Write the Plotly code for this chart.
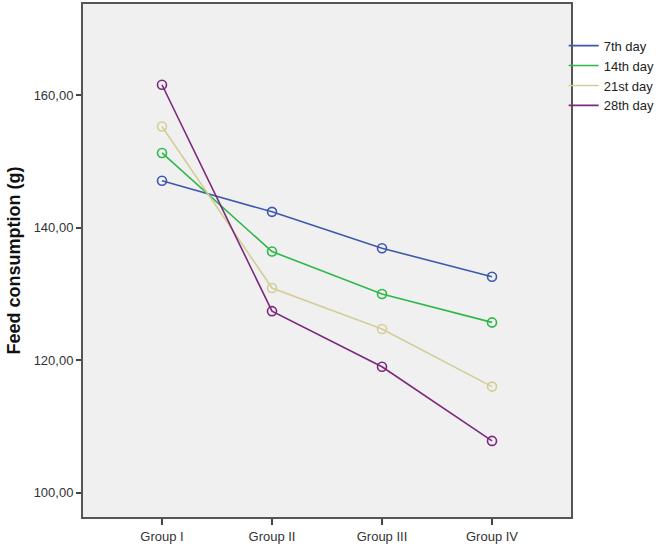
import plotly.graph_objects as go

groups = ["Group I", "Group II", "Group III", "Group IV"]
day7 = [147.1, 142.4, 136.9, 132.6]
day14 = [151.3, 136.4, 130.0, 125.7]
day21 = [155.3, 130.9, 124.7, 116.0]
day28 = [161.6, 127.4, 119.0, 107.8]
series_names = ["7th day", "14th day", "21st day", "28th day"]
colors = ["#3E58AC", "#2EB848", "#D3CE97", "#7C287D"]
y_tickvals = [100, 120, 140, 160]
y_ticktext = ["100,00", "120,00", "140,00", "160,00"]

fig = go.Figure()
for name, vals, c in zip(series_names, [day7, day14, day21, day28], colors):
    fig.add_trace(go.Scatter(
        x=list(range(len(groups))), y=vals, name=name, mode="lines+markers",
        line=dict(color=c, width=1.6), showlegend=False,
        marker=dict(symbol="circle-open", size=9, color=c, line=dict(width=1.6, color=c)),
    ))
# legend entries (line only, as in the reference)
for name, c in zip(series_names, colors):
    fig.add_trace(go.Scatter(x=[None], y=[None], name=name, mode="lines",
                             line=dict(color=c, width=1.6), showlegend=True))

fig.update_layout(
    width=658, height=548,
    margin=dict(l=83, r=87, t=4, b=31, autoexpand=False),
    paper_bgcolor="white", plot_bgcolor="#F0F0F0",
    font=dict(family="Liberation Sans, Arial, sans-serif", size=13, color="#333333"),
    showlegend=True,
    legend=dict(x=0.985, y=0.948, xanchor="left", yanchor="top",
                font=dict(size=13, color="#222222"), bgcolor="rgba(0,0,0,0)",
                itemwidth=30, tracegroupgap=0),
    xaxis=dict(range=[-0.718, 3.718], tickmode="array", tickvals=list(range(len(groups))),
               ticktext=groups, showgrid=False, zeroline=False, ticks="outside", ticklen=6,
               tickcolor="#444444", tickwidth=1.5, showline=True, linecolor="#555555", linewidth=2,
               mirror=True, automargin=False, tickfont=dict(size=13, color="#333333")),
    yaxis=dict(range=[96.3, 173.8], tickmode="array", tickvals=y_tickvals, ticktext=y_ticktext,
               showgrid=False, zeroline=False, ticks="outside", ticklen=5, tickcolor="#444444",
               tickwidth=1.5, showline=True, linecolor="#555555", linewidth=2, mirror=True,
               automargin=False, tickfont=dict(size=13, color="#333333"),
               title=dict(text="<b>Feed consumption (g)</b>", font=dict(size=18, color="#111111"), standoff=8)),
)

fig.write_html("out.html", config={"displayModeBar": False},
               post_script="document.body.style.margin='0';document.body.style.overflow='hidden';")
